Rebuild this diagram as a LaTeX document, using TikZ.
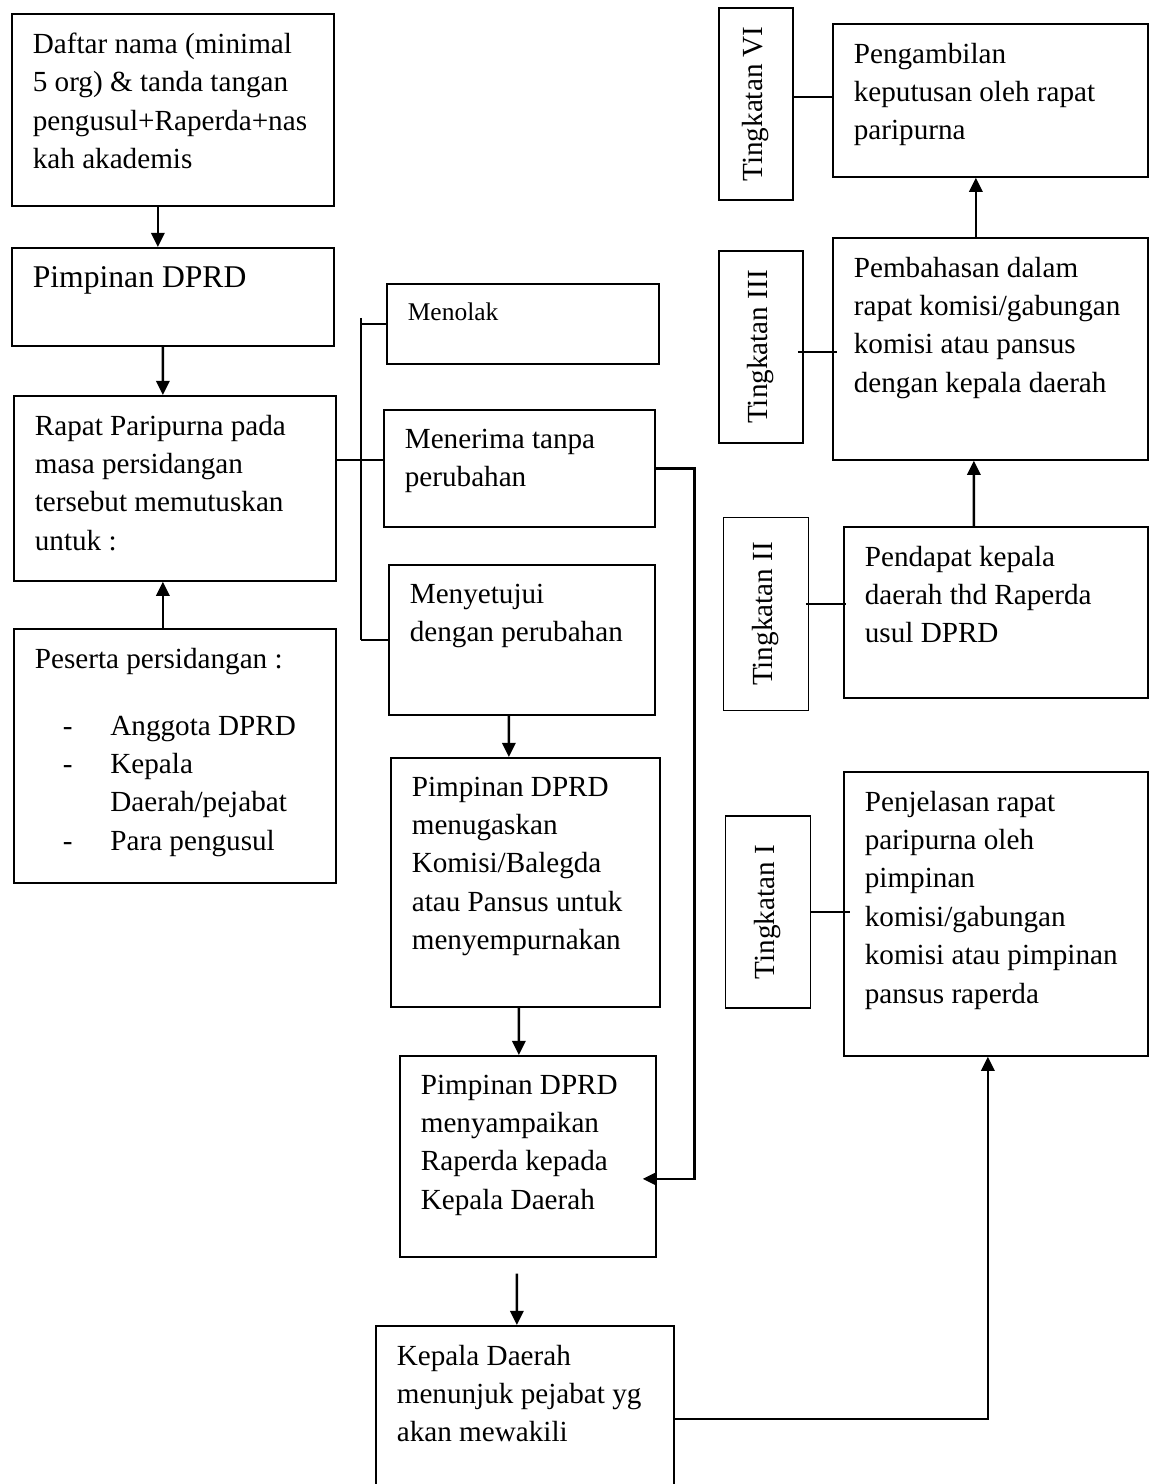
\documentclass[tikz,border=0pt]{standalone}
\usepackage{fontspec}
\setmainfont{Liberation Serif}
\usepackage{graphicx}
\usetikzlibrary{arrows.meta}

\newcommand{\bodyfont}{\fontsize{16.6}{21.85}\selectfont}
\newcommand{\dashitem}[1]{\hspace*{16pt}\makebox[27pt][l]{-}#1}

\begin{document}
\begin{tikzpicture}[
    x=0.02cm, y=-0.02cm,
    box/.style={draw, line width=1pt, anchor=north west, inner sep=0pt},
    txt/.style={anchor=north west, xshift=0.43cm, yshift=-0.39cm, inner sep=0pt, align=left, font=\bodyfont},
    level/.style={draw, line width=1pt, inner sep=0pt, font=\bodyfont},
    arr/.style={-{Triangle[length=8pt,width=7.5pt]}, line width=1.4pt},
    link/.style={line width=0.9pt}
]
\useasboundingbox (0,0) rectangle (1150,1484);

% left column
\node[box, minimum width=6.44cm, minimum height=3.84cm] (daftar) at (11,13) {};
\node[box, minimum width=6.44cm, minimum height=1.96cm] (pimpinan) at (11,247) {};
\node[box, minimum width=6.44cm, minimum height=3.70cm] (rapat) at (13,395) {};
\node[box, minimum width=6.44cm, minimum height=5.08cm] (peserta) at (13,628) {};

\node[txt] (daftar-t) at (daftar.north west) {Daftar nama (minimal\\5 org) \& tanda tangan\\pengusul+Raperda+nas\\kah akademis};
\node[txt, font=\fontsize{18}{22}\selectfont] (pimpinan-t) at (pimpinan.north west) {Pimpinan DPRD};
\node[txt] (rapat-t) at (rapat.north west) {Rapat Paripurna pada\\masa persidangan\\tersebut memutuskan\\untuk :};
\node[txt] (peserta-t) at (peserta.north west) {Peserta persidangan :\\[16.3pt]
    \dashitem{Anggota DPRD}\\\dashitem{Kepala}\\\hspace*{43pt}Daerah/pejabat\\\dashitem{Para pengusul}};

% middle column
\node[box, minimum width=5.44cm, minimum height=1.60cm] (menolak) at (386,283) {};
\node[box, minimum width=5.42cm, minimum height=2.34cm] (menerima) at (383,409) {};
\node[box, minimum width=5.32cm, minimum height=3.00cm] (setuju) at (388,564) {};
\node[box, minimum width=5.38cm, minimum height=4.98cm] (tugas) at (390,757) {};
\node[box, minimum width=5.12cm, minimum height=4.02cm] (sampai) at (399,1055) {};
\node[box, minimum width=5.96cm, minimum height=4.00cm] (kepala) at (375,1325) {};

\node[txt, font=\fontsize{14.5}{19}\selectfont] (menolak-t) at (menolak.north west) {Menolak};
\node[txt] (menerima-t) at (menerima.north west) {Menerima tanpa\\perubahan};
\node[txt] (setuju-t) at (setuju.north west) {Menyetujui\\dengan perubahan};
\node[txt] (tugas-t) at (tugas.north west) {Pimpinan DPRD\\menugaskan\\Komisi/Balegda\\atau Pansus untuk\\menyempurnakan};
\node[txt] (sampai-t) at (sampai.north west) {Pimpinan DPRD\\menyampaikan\\Raperda kepada\\Kepala Daerah};
\node[txt] (kepala-t) at (kepala.north west) {Kepala Daerah\\menunjuk pejabat yg\\akan mewakili};

% right column
\node[box, minimum width=6.30cm, minimum height=3.06cm] (ambil) at (832,23) {};
\node[box, minimum width=6.30cm, minimum height=4.44cm] (bahas) at (832,237) {};
\node[box, minimum width=6.08cm, minimum height=3.42cm] (dapat) at (843,526) {};
\node[box, minimum width=6.08cm, minimum height=5.68cm] (jelas) at (843,771) {};

\node[txt] (ambil-t) at (ambil.north west) {Pengambilan\\keputusan oleh rapat\\paripurna};
\node[txt] (bahas-t) at (bahas.north west) {Pembahasan dalam\\rapat komisi/gabungan\\komisi atau pansus\\dengan kepala daerah};
\node[txt] (dapat-t) at (dapat.north west) {Pendapat kepala\\daerah thd Raperda\\usul DPRD};
\node[txt] (jelas-t) at (jelas.north west) {Penjelasan rapat\\paripurna oleh\\pimpinan\\komisi/gabungan\\komisi atau pimpinan\\pansus raperda};

\node[level, minimum width=1.48cm, minimum height=3.84cm] (tk6) at (756,104) {\rotatebox{90}{Tingkatan VI}};
\node[level, minimum width=1.68cm, minimum height=3.84cm] (tk3) at (761,347) {\rotatebox{90}{Tingkatan III}};
\node[level, minimum width=1.70cm, minimum height=3.86cm] (tk2) at (766,614) {\rotatebox{90}{Tingkatan II}};
\node[level, minimum width=1.70cm, minimum height=3.84cm] (tk1) at (768,912) {\rotatebox{90}{Tingkatan I}};

% arrows
\draw[arr] ([xshift=-0.30cm]daftar.south) -- ([xshift=-0.30cm]pimpinan.north);
\draw[arr] ([xshift=-0.20cm]pimpinan.south) -- ([xshift=-0.24cm]rapat.north);
\draw[arr] ([xshift=-0.24cm]peserta.north) -- ([xshift=-0.24cm]rapat.south);
\draw[arr] ([xshift=-0.26cm]setuju.south) -- ([xshift=-0.33cm]tugas.north);
\draw[arr] ([xshift=-0.13cm]tugas.south) -- ([xshift=-0.18cm]sampai.north);
\draw[arr] ([xshift=-0.22cm,yshift=-0.32cm]sampai.south) -- ([xshift=-0.16cm]kepala.north);
\draw[arr] (menerima.east) -- ++(0.78cm,0) |- ([xshift=-0.28cm,yshift=-0.45cm]sampai.east);
\draw[arr] ([yshift=0.14cm]kepala.east) -| ([xshift=-0.16cm]jelas.south);
\draw[arr] ([xshift=-0.44cm]dapat.north) -- ([xshift=-0.33cm]bahas.south);
\draw[arr] ([xshift=-0.29cm]bahas.north) -- ([xshift=-0.29cm]ambil.south);

% decision bracket
\coordinate (split) at (361,460);
\coordinate (spine-top) at (split |- menolak.west);
\coordinate (spine-bot) at (split |- setuju.west);
\draw[link] (rapat.east |- split) -- (menerima.west |- split);
\draw[link] ([yshift=0.12cm]spine-top) -- (spine-bot);
\foreach \n in {menolak,setuju}
    \draw[link] (split |- \n.west) -- (\n.west);

% level links
\coordinate (l6) at ([yshift=0.14cm]tk6.east);
\coordinate (l3) at ([xshift=-0.12cm,yshift=-0.10cm]tk3.east);
\coordinate (l2) at ([xshift=-0.07cm,yshift=0.20cm]tk2.east);
\coordinate (l1) at (tk1.east);
\draw[link] (l6) -- (l6 -| ambil.west);
\draw[link] (l3) -- ([xshift=0.10cm]l3 -| bahas.west);
\draw[link] (l2) -- ([xshift=0.06cm]l2 -| dapat.west);
\draw[link] (l1) -- ([xshift=0.14cm]l1 -| jelas.west);
\end{tikzpicture}
\end{document}
